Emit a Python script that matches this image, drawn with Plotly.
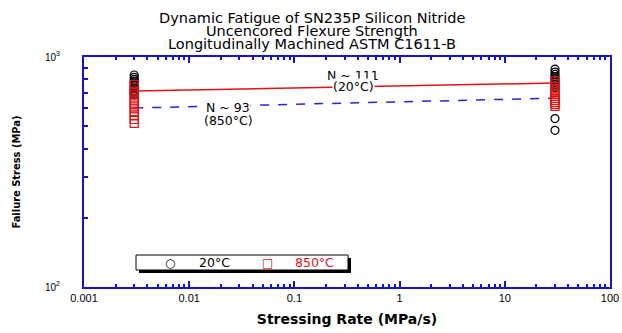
import plotly.graph_objects as go

# ---- data ----
rate_low = 0.003
rate_high = 30.0

s20_low = [835, 815, 800, 785, 770, 755, 740, 728, 715, 705, 695, 685]
s20_high = [885, 860, 840, 820, 805, 790, 775, 760, 748, 735, 540, 480]
s850_low = [760, 735, 710, 690, 670, 650, 630, 612, 595, 575, 555, 535, 515]
s850_high = [790, 765, 745, 725, 705, 690, 675, 660, 648, 635, 622, 610]

fit_rates = [0.003, 30.0]
fit20 = [711, 771]
fit850 = [600, 662]

title_lines = ["Dynamic Fatigue of SN235P Silicon Nitride",
               "Uncencored Flexure Strength",
               "Longitudinally Machined ASTM C1611-B"]
x_ticks = [0.001, 0.01, 0.1, 1, 10, 100]
x_ticktext = ["0.001", "0.01", "0.1", "1", "10", "100"]
y_ticks = [100, 1000]
y_ticktext = ["10<sup>2</sup>", "10<sup>3</sup>"]
legend_names = ["20°C", "850°C"]

AX = "#1414c8"
RED = "#e01414"
BLUE = "#2626d8"
FONT = "Liberation Sans"
WIDE = "DejaVu Sans"

fig = go.Figure()
fig.add_trace(go.Scatter(x=fit_rates, y=fit20, mode="lines", line=dict(color=RED, width=1.5),
                         showlegend=False, hoverinfo="skip"))
fig.add_trace(go.Scatter(x=fit_rates, y=fit850, mode="lines", line=dict(color=BLUE, width=1.5, dash="dash"),
                         showlegend=False, hoverinfo="skip"))
fig.add_trace(go.Scatter(x=[rate_low] * len(s20_low) + [rate_high] * len(s20_high),
                         y=s20_low + s20_high, mode="markers", name=legend_names[0], showlegend=False,
                         marker=dict(symbol="circle-open", size=8, color="black", line=dict(width=1.2))))
fig.add_trace(go.Scatter(x=[rate_low] * len(s850_low) + [rate_high] * len(s850_high),
                         y=s850_low + s850_high, mode="markers", name=legend_names[1], showlegend=False,
                         marker=dict(symbol="square-open", size=8, color=RED, line=dict(width=1.2))))

minor_x = [m * 10 ** e for e in range(-3, 2) for m in range(2, 10)]
minor_y = [m * 100 for m in range(2, 10)]

fig.update_xaxes(type="log", range=[-3, 2], tickvals=x_ticks, ticktext=x_ticktext, automargin=False,
                 ticks="inside", ticklen=6, tickwidth=1.5, tickcolor=AX,
                 minor=dict(tickvals=minor_x, ticks="inside", ticklen=3, tickwidth=1.5, tickcolor=AX),
                 showline=True, linecolor=AX, linewidth=2, mirror="allticks", showgrid=False, zeroline=False,
                 tickfont=dict(family=FONT, size=11, color="black"),
                 title=dict(text="<b>Stressing Rate (MPa/s)</b>", font=dict(family=WIDE, size=14, color="black"),
                            standoff=11))
fig.update_yaxes(type="log", range=[2, 3], tickvals=y_ticks, ticktext=y_ticktext, automargin=False,
                 ticks="inside", ticklen=6, tickwidth=1.5, tickcolor=AX,
                 minor=dict(tickvals=minor_y, ticks="inside", ticklen=4, tickwidth=1.5, tickcolor=AX),
                 showline=True, linecolor=AX, linewidth=2, mirror=True, showgrid=False, zeroline=False,
                 tickfont=dict(family=FONT, size=10, color="black"), ticklabelstandoff=20,
                 title=dict(text="<b>Failure Stress (MPa)</b>",
                            font=dict(family="DejaVu Sans Condensed, Liberation Sans", size=11, color="black"),
                            standoff=22))

anns = []
for i, t in enumerate(title_lines):
    anns.append(dict(text=t, xref="paper", yref="paper", x=0.433, y=1.0, yanchor="middle",
                     yshift=39 - 13 * i, showarrow=False,
                     font=dict(family=WIDE, size=14.5, color="black")))


def lab(text, x, y):
    return dict(text=text, x=x, y=y, xref="x", yref="y", showarrow=False, yanchor="middle",
                bgcolor="white", borderpad=0, font=dict(family=WIDE, size=12.5, color="black"))


anns += [lab("N ~ 111", -0.44, 2.9217), lab("(20°C)", -0.44, 2.8717),
         lab("N ~ 93", -1.63, 2.7783), lab("(850°C)", -1.63, 2.7261)]

# legend box (drawn manually to match the compact boxed key)
ly = 0.1065
anns += [
    dict(text="○", x=0.1635, y=ly, xref="paper", yref="paper", showarrow=False, yanchor="middle",
         xanchor="center", font=dict(family=WIDE, size=12, color="black")),
    dict(text=legend_names[0], x=0.2148, y=ly, xref="paper", yref="paper", showarrow=False, yanchor="middle",
         xanchor="left", font=dict(family=WIDE, size=12.5, color="black")),
    dict(text="□", x=0.3498, y=ly, xref="paper", yref="paper", showarrow=False, yanchor="middle",
         xanchor="center", font=dict(family=WIDE, size=12, color=RED)),
    dict(text=legend_names[1], x=0.3973, y=ly, xref="paper", yref="paper", showarrow=False, yanchor="middle",
         xanchor="left", font=dict(family=WIDE, size=12.5, color=RED)),
]

fig.update_layout(
    width=622, height=333, margin=dict(l=84, r=12, t=57, b=46),
    paper_bgcolor="white", plot_bgcolor="white",
    annotations=anns,
    showlegend=False,
    shapes=[
        dict(type="rect", xref="paper", yref="paper", x0=0.1046, x1=0.5076, y0=0.0609, y1=0.1261,
             fillcolor="black", line=dict(width=0), layer="above"),
        dict(type="rect", xref="paper", yref="paper", x0=0.0989, x1=0.5019, y0=0.0739, y1=0.1391,
             fillcolor="white", line=dict(width=1, color="black"), layer="above"),
    ],
)

fig.write_html("out.html", config={"displayModeBar": False},
               post_script="document.body.style.margin='0';document.body.style.overflow='hidden';")
